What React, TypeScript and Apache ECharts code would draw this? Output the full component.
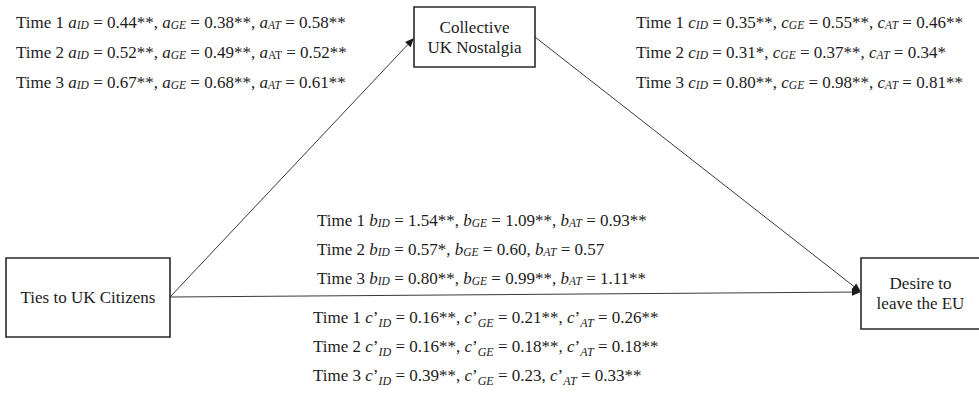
import React, { useEffect, useRef } from "react";
import * as echarts from "echarts";

// ---------- data ----------
const times = ["Time 1", "Time 2", "Time 3"];
const groups = ["ID", "GE", "AT"];
const aValues = [
  ["0.44**", "0.38**", "0.58**"],
  ["0.52**", "0.49**", "0.52**"],
  ["0.67**", "0.68**", "0.61**"],
];
const aSubItalic = [
  [true, true, true],
  [true, true, false],
  [true, true, true],
];
const bValues = [
  ["1.54**", "1.09**", "0.93**"],
  ["0.57*", "0.60", "0.57"],
  ["0.80**", "0.99**", "1.11**"],
];
const cValues = [
  ["0.35**", "0.55**", "0.46**"],
  ["0.31*", "0.37**", "0.34*"],
  ["0.80**", "0.98**", "0.81**"],
];
const cPrimeValues = [
  ["0.16**", "0.21**", "0.26**"],
  ["0.16**", "0.18**", "0.18**"],
  ["0.39**", "0.23", "0.33**"],
];
const nodeX = "Ties to UK Citizens";
const nodeM = "Collective\nUK Nostalgia";
const nodeY = "Desire to\nleave the EU";

// ---------- layout / style ----------
const W = 979;
const H = 404;
const FAM = "'Liberation Serif', 'Times New Roman', Times, serif";
const TEXT = "#1c1c1c";
const LINE = "#3a3a3a";
const BOX = "#2a2a2a";
const FS = 17;
const f = (size: number, italic = false) => `${italic ? "italic " : ""}${size}px ${FAM}`;

const boxX = { x: 6, y: 258, w: 164, h: 79 };
const boxM = { x: 414, y: 7, w: 121, h: 60 };
const boxY = { x: 861, y: 258, w: 119, h: 71 };

const NB = "\u00a0";

function rowText(
  time: string,
  letter: string,
  prime: boolean,
  values: string[],
  italicSubs?: boolean[]
) {
  let s = `{t|${time.replace(/ /g, NB)}${NB}}`;
  values.forEach((v, i) => {
    s += `{v|${letter}}`;
    if (prime) s += `{t|\u2019}`;
    const st = prime ? "sp" : italicSubs && !italicSubs[i] ? "su" : "s";
    s += `{${st}|${groups[i]}}`;
    s += `{t|${NB}=${NB}${v}${i < values.length - 1 ? "," + NB : ""}}`;
  });
  return s;
}

const rich = {
  t: { font: f(FS), fill: TEXT, lineHeight: 20, height: 17, verticalAlign: "middle" },
  v: { font: f(FS, true), fill: TEXT, lineHeight: 20, height: 17, verticalAlign: "middle" },
  s: { font: f(11.5, true), fill: TEXT, lineHeight: 12, height: 14, verticalAlign: "bottom" },
  su: { font: f(11.5), fill: TEXT, lineHeight: 12, height: 14, verticalAlign: "bottom" },
  sp: { font: f(12, true), fill: TEXT, lineHeight: 12, height: 9, verticalAlign: "bottom" },
};

function textBlock(x: number, centers: number[], letter: string, prime: boolean, vals: string[][], italic?: boolean[][]) {
  return vals.map((row, r) => ({
    type: "text",
    x,
    y: centers[r] - 10,
    silent: true,
    style: {
      text: rowText(times[r], letter, prime, row, italic ? italic[r] : undefined),
      rich,
      align: "left",
      verticalAlign: "top",
      font: f(FS),
      fill: TEXT,
    },
  }));
}

function arrow(x1: number, y1: number, x2: number, y2: number) {
  const dx = x2 - x1;
  const dy = y2 - y1;
  const len = Math.sqrt(dx * dx + dy * dy);
  const ux = dx / len;
  const uy = dy / len;
  const al = 9;
  const hw = 3.8;
  const bx = x2 - ux * al;
  const by = y2 - uy * al;
  return [
    {
      type: "line",
      silent: true,
      shape: { x1, y1, x2: bx + ux * 1, y2: by + uy * 1 },
      style: { stroke: LINE, lineWidth: 1 },
    },
    {
      type: "polygon",
      silent: true,
      shape: {
        points: [
          [x2, y2],
          [bx - uy * hw, by + ux * hw],
          [bx + uy * hw, by - ux * hw],
        ],
      },
      style: { fill: "#1a1a1a" },
    },
  ];
}

function box(b: { x: number; y: number; w: number; h: number }, label: string) {
  return [
    {
      type: "rect",
      silent: true,
      shape: { x: b.x, y: b.y, width: b.w, height: b.h },
      style: { fill: "#ffffff", stroke: BOX, lineWidth: 1.6 },
    },
    {
      type: "text",
      silent: true,
      x: b.x + b.w / 2,
      y: b.y + b.h / 2,
      style: {
        text: label,
        align: "center",
        verticalAlign: "middle",
        font: f(FS),
        lineHeight: 20,
        fill: TEXT,
      },
    },
  ];
}

export default function App() {
  const ref = useRef<HTMLDivElement>(null);
  useEffect(() => {
    document.body.style.margin = "0";
    if (!ref.current) return;
    const chart = echarts.init(ref.current, null, { renderer: "svg" });
    const xMid = { x: boxX.x + boxX.w, y: boxX.y + boxX.h / 2 - 0.5 };
    const elements: any[] = [
      ...arrow(xMid.x, xMid.y, boxM.x, 38),
      ...arrow(boxM.x + boxM.w, 37, boxY.x, 292),
      ...arrow(xMid.x, xMid.y, boxY.x, 292),
      ...box(boxX, nodeX),
      ...box(boxM, nodeM),
      ...box(boxY, nodeY),
      ...textBlock(16, [22, 52, 82], "a", false, aValues, aSubItalic),
      ...textBlock(636, [22, 52, 82], "c", false, cValues),
      ...textBlock(317, [220, 249, 278], "b", false, bValues),
      ...textBlock(313, [317, 346, 375], "c", true, cPrimeValues),
    ];
    chart.setOption({
      animation: false,
      backgroundColor: "#ffffff",
      graphic: { elements },
    });
    return () => chart.dispose();
  }, []);
  return <div ref={ref} style={{ width: W, height: H }} />;
}
